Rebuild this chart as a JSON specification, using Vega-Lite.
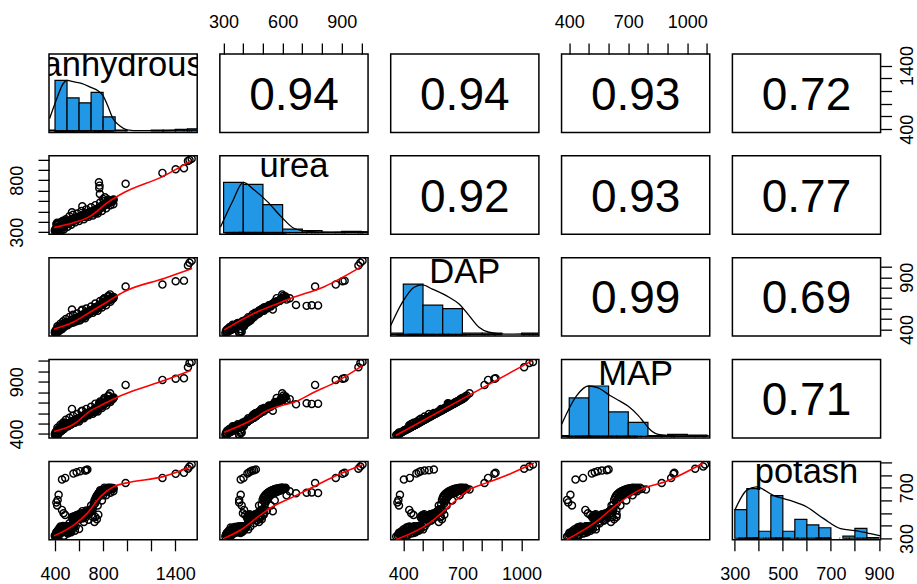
{
"$schema":"https://vega.github.io/schema/vega-lite/v6.json",
"padding":{"left":7,"top":12,"right":-1,"bottom":0},
"config":{"font":"Liberation Sans","view":{"stroke":"black","strokeWidth":1.5},
"axis":{"domain":false,"grid":false,"tickColor":"black","tickWidth":1.3,"tickSize":11,"labelFont":"Liberation Sans","labelFontSize":18,"labelColor":"black","labelFlush":false,"labelOverlap":false}},
"datasets":{
"obs":[
{"anhydrous":398,"urea":318,"DAP":372,"MAP":396,"potash":322},{"anhydrous":401,"urea":309,"DAP":364,"MAP":389,"potash":316},{"anhydrous":404,"urea":326,"DAP":384,"MAP":408,"potash":330},{"anhydrous":406,"urea":334,"DAP":392,"MAP":417,"potash":318},{"anhydrous":409,"urea":318,"DAP":378,"MAP":401,"potash":345},{"anhydrous":412,"urea":340,"DAP":398,"MAP":423,"potash":326},{"anhydrous":414,"urea":328,"DAP":388,"MAP":413,"potash":352},{"anhydrous":417,"urea":314,"DAP":376,"MAP":400,"potash":336},{"anhydrous":420,"urea":346,"DAP":404,"MAP":430,"potash":342},{"anhydrous":422,"urea":336,"DAP":412,"MAP":437,"potash":318},
{"anhydrous":425,"urea":326,"DAP":394,"MAP":418,"potash":362},{"anhydrous":428,"urea":350,"DAP":416,"MAP":442,"potash":350},{"anhydrous":430,"urea":340,"DAP":402,"MAP":428,"potash":374},{"anhydrous":433,"urea":332,"DAP":422,"MAP":448,"potash":332},{"anhydrous":436,"urea":356,"DAP":408,"MAP":434,"potash":358},{"anhydrous":438,"urea":345,"DAP":426,"MAP":452,"potash":380},{"anhydrous":441,"urea":360,"DAP":412,"MAP":438,"potash":346},{"anhydrous":443,"urea":350,"DAP":430,"MAP":456,"potash":368},{"anhydrous":446,"urea":336,"DAP":416,"MAP":442,"potash":386},{"anhydrous":448,"urea":364,"DAP":434,"MAP":460,"potash":354},
{"anhydrous":451,"urea":352,"DAP":420,"MAP":446,"potash":382},{"anhydrous":453,"urea":368,"DAP":438,"MAP":465,"potash":364},{"anhydrous":456,"urea":356,"DAP":424,"MAP":450,"potash":390},{"anhydrous":458,"urea":372,"DAP":442,"MAP":469,"potash":372},{"anhydrous":461,"urea":360,"DAP":428,"MAP":454,"potash":388},{"anhydrous":463,"urea":346,"DAP":446,"MAP":473,"potash":376},{"anhydrous":466,"urea":376,"DAP":432,"MAP":458,"potash":394},{"anhydrous":468,"urea":364,"DAP":450,"MAP":477,"potash":382},{"anhydrous":471,"urea":380,"DAP":436,"MAP":462,"potash":368},{"anhydrous":473,"urea":368,"DAP":454,"MAP":481,"potash":392},
{"anhydrous":476,"urea":356,"DAP":440,"MAP":466,"potash":384},{"anhydrous":478,"urea":384,"DAP":458,"MAP":485,"potash":396},{"anhydrous":481,"urea":372,"DAP":444,"MAP":470,"potash":380},{"anhydrous":483,"urea":388,"DAP":462,"MAP":489,"potash":390},{"anhydrous":486,"urea":376,"DAP":448,"MAP":475,"potash":374},{"anhydrous":488,"urea":392,"DAP":465,"MAP":492,"potash":395},{"anhydrous":491,"urea":380,"DAP":452,"MAP":479,"potash":388},{"anhydrous":494,"urea":396,"DAP":468,"MAP":496,"potash":393},{"anhydrous":497,"urea":384,"DAP":456,"MAP":483,"potash":381},{"anhydrous":500,"urea":400,"DAP":472,"MAP":500,"potash":396},
{"anhydrous":503,"urea":392,"DAP":462,"MAP":489,"potash":352},{"anhydrous":506,"urea":382,"DAP":448,"MAP":475,"potash":366},{"anhydrous":509,"urea":398,"DAP":468,"MAP":496,"potash":378},{"anhydrous":512,"urea":386,"DAP":452,"MAP":479,"potash":344},{"anhydrous":515,"urea":402,"DAP":472,"MAP":500,"potash":386},{"anhydrous":518,"urea":390,"DAP":456,"MAP":483,"potash":360},{"anhydrous":521,"urea":406,"DAP":476,"MAP":504,"potash":392},{"anhydrous":524,"urea":394,"DAP":460,"MAP":487,"potash":372},{"anhydrous":527,"urea":410,"DAP":480,"MAP":508,"potash":398},{"anhydrous":530,"urea":398,"DAP":464,"MAP":491,"potash":356},
{"anhydrous":533,"urea":412,"DAP":484,"MAP":512,"potash":384},{"anhydrous":536,"urea":400,"DAP":468,"MAP":495,"potash":366},{"anhydrous":539,"urea":416,"DAP":488,"MAP":516,"potash":396},{"anhydrous":542,"urea":404,"DAP":472,"MAP":500,"potash":378},{"anhydrous":545,"urea":420,"DAP":492,"MAP":521,"potash":460},{"anhydrous":548,"urea":408,"DAP":476,"MAP":504,"potash":388},{"anhydrous":551,"urea":424,"DAP":496,"MAP":525,"potash":472},{"anhydrous":554,"urea":412,"DAP":480,"MAP":508,"potash":398},{"anhydrous":557,"urea":428,"DAP":500,"MAP":529,"potash":466},{"anhydrous":560,"urea":416,"DAP":484,"MAP":512,"potash":390},
{"anhydrous":564,"urea":432,"DAP":504,"MAP":533,"potash":478},{"anhydrous":568,"urea":420,"DAP":488,"MAP":516,"potash":470},{"anhydrous":572,"urea":436,"DAP":508,"MAP":537,"potash":395},{"anhydrous":576,"urea":424,"DAP":494,"MAP":522,"potash":482},{"anhydrous":581,"urea":440,"DAP":512,"MAP":541,"potash":474},{"anhydrous":586,"urea":428,"DAP":500,"MAP":529,"potash":486},{"anhydrous":592,"urea":444,"DAP":518,"MAP":547,"potash":468},{"anhydrous":598,"urea":432,"DAP":506,"MAP":535,"potash":492},{"anhydrous":541,"urea":492,"DAP":591,"MAP":640,"potash":470},{"anhydrous":627,"urea":550,"DAP":590,"MAP":622,"potash":515},
{"anhydrous":603,"urea":436,"DAP":512,"MAP":541,"potash":452},{"anhydrous":607,"urea":450,"DAP":524,"MAP":554,"potash":476},{"anhydrous":611,"urea":440,"DAP":516,"MAP":545,"potash":462},{"anhydrous":615,"urea":456,"DAP":530,"MAP":560,"potash":484},{"anhydrous":619,"urea":444,"DAP":520,"MAP":550,"potash":470},{"anhydrous":623,"urea":460,"DAP":536,"MAP":566,"potash":492},{"anhydrous":628,"urea":448,"DAP":526,"MAP":556,"potash":458},{"anhydrous":632,"urea":466,"DAP":542,"MAP":572,"potash":488},{"anhydrous":636,"urea":454,"DAP":532,"MAP":562,"potash":474},{"anhydrous":640,"urea":470,"DAP":548,"MAP":579,"potash":496},
{"anhydrous":645,"urea":458,"DAP":538,"MAP":568,"potash":480},{"anhydrous":649,"urea":474,"DAP":554,"MAP":585,"potash":498},{"anhydrous":654,"urea":462,"DAP":544,"MAP":574,"potash":486},{"anhydrous":658,"urea":478,"DAP":560,"MAP":591,"potash":470},{"anhydrous":663,"urea":466,"DAP":550,"MAP":581,"potash":494},{"anhydrous":667,"urea":484,"DAP":566,"MAP":597,"potash":506},{"anhydrous":672,"urea":470,"DAP":556,"MAP":587,"potash":488},{"anhydrous":677,"urea":488,"DAP":572,"MAP":603,"potash":512},{"anhydrous":682,"urea":474,"DAP":562,"MAP":593,"potash":498},{"anhydrous":688,"urea":494,"DAP":578,"MAP":610,"potash":524},
{"anhydrous":694,"urea":480,"DAP":568,"MAP":599,"potash":506},{"anhydrous":700,"urea":498,"DAP":584,"MAP":616,"potash":530},{"anhydrous":706,"urea":486,"DAP":576,"MAP":608,"potash":518},{"anhydrous":713,"urea":504,"DAP":592,"MAP":624,"potash":528},
{"anhydrous":722,"urea":494,"DAP":592,"MAP":624,"potash":566},{"anhydrous":726,"urea":508,"DAP":604,"MAP":637,"potash":590},{"anhydrous":730,"urea":498,"DAP":596,"MAP":628,"potash":604},{"anhydrous":734,"urea":512,"DAP":608,"MAP":641,"potash":578},{"anhydrous":738,"urea":502,"DAP":600,"MAP":633,"potash":620},{"anhydrous":742,"urea":518,"DAP":612,"MAP":645,"potash":598},{"anhydrous":746,"urea":508,"DAP":604,"MAP":637,"potash":634},{"anhydrous":750,"urea":524,"DAP":618,"MAP":651,"potash":612},{"anhydrous":754,"urea":514,"DAP":610,"MAP":643,"potash":646},{"anhydrous":758,"urea":530,"DAP":624,"MAP":657,"potash":626},
{"anhydrous":762,"urea":520,"DAP":616,"MAP":649,"potash":654},{"anhydrous":766,"urea":536,"DAP":630,"MAP":664,"potash":636},{"anhydrous":770,"urea":526,"DAP":622,"MAP":655,"potash":662},{"anhydrous":774,"urea":542,"DAP":636,"MAP":670,"potash":644},{"anhydrous":778,"urea":532,"DAP":628,"MAP":661,"potash":668},{"anhydrous":782,"urea":548,"DAP":642,"MAP":676,"potash":650},{"anhydrous":786,"urea":538,"DAP":634,"MAP":668,"potash":674},{"anhydrous":790,"urea":554,"DAP":648,"MAP":682,"potash":656},{"anhydrous":794,"urea":544,"DAP":640,"MAP":674,"potash":678},{"anhydrous":798,"urea":560,"DAP":654,"MAP":688,"potash":660},
{"anhydrous":802,"urea":550,"DAP":646,"MAP":680,"potash":682},{"anhydrous":806,"urea":566,"DAP":660,"MAP":695,"potash":664},{"anhydrous":810,"urea":556,"DAP":652,"MAP":686,"potash":686},{"anhydrous":814,"urea":572,"DAP":666,"MAP":701,"potash":668},{"anhydrous":818,"urea":562,"DAP":658,"MAP":693,"potash":690},{"anhydrous":822,"urea":578,"DAP":672,"MAP":707,"potash":672},{"anhydrous":826,"urea":568,"DAP":664,"MAP":699,"potash":692},{"anhydrous":830,"urea":584,"DAP":678,"MAP":713,"potash":676},{"anhydrous":834,"urea":574,"DAP":670,"MAP":705,"potash":694},{"anhydrous":838,"urea":590,"DAP":684,"MAP":720,"potash":680},
{"anhydrous":842,"urea":580,"DAP":676,"MAP":711,"potash":696},{"anhydrous":846,"urea":596,"DAP":690,"MAP":726,"potash":684},{"anhydrous":850,"urea":586,"DAP":682,"MAP":718,"potash":698},{"anhydrous":855,"urea":600,"DAP":696,"MAP":732,"potash":688},{"anhydrous":860,"urea":592,"DAP":688,"MAP":724,"potash":699},{"anhydrous":865,"urea":606,"DAP":700,"MAP":736,"potash":690},{"anhydrous":870,"urea":598,"DAP":694,"MAP":730,"potash":697},{"anhydrous":876,"urea":610,"DAP":706,"MAP":742,"potash":692},{"anhydrous":882,"urea":602,"DAP":700,"MAP":736,"potash":698},{"anhydrous":888,"urea":614,"DAP":712,"MAP":749,"potash":694},
{"anhydrous":735,"urea":486,"DAP":586,"MAP":618,"potash":470},{"anhydrous":748,"urea":494,"DAP":596,"MAP":628,"potash":452},{"anhydrous":760,"urea":504,"DAP":608,"MAP":641,"potash":488},{"anhydrous":728,"urea":480,"DAP":580,"MAP":612,"potash":430},{"anhydrous":800,"urea":620,"DAP":686,"MAP":722,"potash":640},{"anhydrous":815,"urea":636,"DAP":698,"MAP":734,"potash":672},{"anhydrous":845,"urea":604,"DAP":722,"MAP":768,"potash":690},{"anhydrous":858,"urea":598,"DAP":736,"MAP":790,"potash":685},
{"anhydrous":420,"urea":380,"DAP":430,"MAP":460,"potash":360},{"anhydrous":435,"urea":312,"DAP":388,"MAP":412,"potash":330},{"anhydrous":445,"urea":395,"DAP":455,"MAP":487,"potash":395},{"anhydrous":455,"urea":318,"DAP":402,"MAP":430,"potash":345},{"anhydrous":468,"urea":410,"DAP":478,"MAP":510,"potash":398},{"anhydrous":475,"urea":330,"DAP":420,"MAP":448,"potash":322},{"anhydrous":490,"urea":425,"DAP":500,"MAP":535,"potash":372},{"anhydrous":505,"urea":352,"DAP":440,"MAP":470,"potash":340},{"anhydrous":520,"urea":455,"DAP":520,"MAP":555,"potash":420},{"anhydrous":535,"urea":372,"DAP":462,"MAP":492,"potash":350},
{"anhydrous":550,"urea":468,"DAP":540,"MAP":575,"potash":440},{"anhydrous":565,"urea":395,"DAP":478,"MAP":508,"potash":362},{"anhydrous":585,"urea":480,"DAP":552,"MAP":590,"potash":455},{"anhydrous":600,"urea":408,"DAP":488,"MAP":520,"potash":375},{"anhydrous":620,"urea":505,"DAP":580,"MAP":618,"potash":500},{"anhydrous":640,"urea":425,"DAP":518,"MAP":550,"potash":430},{"anhydrous":660,"urea":520,"DAP":600,"MAP":640,"potash":520},{"anhydrous":680,"urea":448,"DAP":545,"MAP":578,"potash":448},{"anhydrous":700,"urea":540,"DAP":620,"MAP":660,"potash":560},{"anhydrous":715,"urea":460,"DAP":560,"MAP":594,"potash":470},
{"anhydrous":735,"urea":560,"DAP":648,"MAP":690,"potash":600},{"anhydrous":755,"urea":480,"DAP":580,"MAP":615,"potash":560},{"anhydrous":775,"urea":585,"DAP":672,"MAP":712,"potash":680},{"anhydrous":790,"urea":505,"DAP":610,"MAP":648,"potash":600},{"anhydrous":810,"urea":600,"DAP":700,"MAP":745,"potash":700},{"anhydrous":825,"urea":530,"DAP":632,"MAP":672,"potash":640},{"anhydrous":840,"urea":615,"DAP":715,"MAP":760,"potash":700},{"anhydrous":860,"urea":560,"DAP":665,"MAP":706,"potash":660},{"anhydrous":875,"urea":590,"DAP":690,"MAP":735,"potash":688},{"anhydrous":885,"urea":570,"DAP":700,"MAP":745,"potash":672},
{"anhydrous":765,"urea":780,"DAP":630,"MAP":690,"potash":658},{"anhydrous":770,"urea":748,"DAP":632,"MAP":688,"potash":663},{"anhydrous":768,"urea":722,"DAP":626,"MAP":694,"potash":660},{"anhydrous":773,"urea":668,"DAP":634,"MAP":684,"potash":656},
{"anhydrous":458,"urea":387,"DAP":403,"MAP":432,"potash":764},{"anhydrous":485,"urea":401,"DAP":433,"MAP":470,"potash":777},{"anhydrous":553,"urea":421,"DAP":466,"MAP":515,"potash":811},{"anhydrous":580,"urea":430,"DAP":478,"MAP":530,"potash":822},{"anhydrous":609,"urea":438,"DAP":488,"MAP":545,"potash":830},{"anhydrous":650,"urea":446,"DAP":508,"MAP":566,"potash":835},{"anhydrous":669,"urea":464,"DAP":555,"MAP":600,"potash":843},{"anhydrous":660,"urea":455,"DAP":530,"MAP":591,"potash":838},
{"anhydrous":430,"urea":387,"DAP":383,"MAP":406,"potash":644},{"anhydrous":422,"urea":379,"DAP":375,"MAP":389,"potash":604},{"anhydrous":411,"urea":379,"DAP":370,"MAP":395,"potash":584},{"anhydrous":418,"urea":392,"DAP":378,"MAP":414,"potash":560},{"anhydrous":458,"urea":404,"DAP":430,"MAP":482,"potash":525},{"anhydrous":471,"urea":398,"DAP":440,"MAP":495,"potash":499},{"anhydrous":485,"urea":410,"DAP":452,"MAP":507,"potash":485},
{"anhydrous":987,"urea":765,"DAP":812,"MAP":870,"potash":737},{"anhydrous":1293,"urea":870,"DAP":830,"MAP":918,"potash":777},{"anhydrous":1403,"urea":905,"DAP":862,"MAP":930,"potash":809},{"anhydrous":1472,"urea":915,"DAP":868,"MAP":934,"potash":817},{"anhydrous":1505,"urea":985,"DAP":1013,"MAP":1040,"potash":849},{"anhydrous":1518,"urea":995,"DAP":1040,"MAP":1081,"potash":866},{"anhydrous":1536,"urea":1006,"DAP":1058,"MAP":1090,"potash":883}
],
"hist":[
{"var":"anhydrous","bin0":300,"bin1":400,"count":1},{"var":"anhydrous","bin0":400,"bin1":500,"count":72},{"var":"anhydrous","bin0":500,"bin1":600,"count":47},{"var":"anhydrous","bin0":600,"bin1":700,"count":40},{"var":"anhydrous","bin0":700,"bin1":800,"count":55},{"var":"anhydrous","bin0":800,"bin1":900,"count":20},{"var":"anhydrous","bin0":900,"bin1":1000,"count":1},{"var":"anhydrous","bin0":1200,"bin1":1300,"count":1},{"var":"anhydrous","bin0":1300,"bin1":1400,"count":1},{"var":"anhydrous","bin0":1400,"bin1":1500,"count":2},{"var":"anhydrous","bin0":1500,"bin1":1600,"count":3},
{"var":"urea","bin0":300,"bin1":400,"count":72},{"var":"urea","bin0":400,"bin1":500,"count":69},{"var":"urea","bin0":500,"bin1":600,"count":40},{"var":"urea","bin0":600,"bin1":700,"count":5},{"var":"urea","bin0":700,"bin1":800,"count":3},{"var":"urea","bin0":800,"bin1":900,"count":1},{"var":"urea","bin0":900,"bin1":1000,"count":2},{"var":"urea","bin0":1000,"bin1":1100,"count":1},
{"var":"DAP","bin0":300,"bin1":400,"count":2},{"var":"DAP","bin0":400,"bin1":500,"count":72},{"var":"DAP","bin0":500,"bin1":600,"count":42},{"var":"DAP","bin0":600,"bin1":700,"count":37},{"var":"DAP","bin0":700,"bin1":800,"count":2},{"var":"DAP","bin0":800,"bin1":900,"count":2},{"var":"DAP","bin0":1000,"bin1":1100,"count":2},
{"var":"MAP","bin0":300,"bin1":400,"count":1},{"var":"MAP","bin0":400,"bin1":500,"count":55},{"var":"MAP","bin0":500,"bin1":600,"count":72},{"var":"MAP","bin0":600,"bin1":700,"count":35},{"var":"MAP","bin0":700,"bin1":800,"count":20},{"var":"MAP","bin0":800,"bin1":900,"count":1},{"var":"MAP","bin0":900,"bin1":1000,"count":3},{"var":"MAP","bin0":1000,"bin1":1100,"count":2},
{"var":"potash","bin0":300,"bin1":350,"count":41},{"var":"potash","bin0":350,"bin1":400,"count":71},{"var":"potash","bin0":400,"bin1":450,"count":10},{"var":"potash","bin0":450,"bin1":500,"count":61},{"var":"potash","bin0":500,"bin1":550,"count":10},{"var":"potash","bin0":550,"bin1":600,"count":27},{"var":"potash","bin0":600,"bin1":650,"count":19},{"var":"potash","bin0":650,"bin1":700,"count":15},{"var":"potash","bin0":750,"bin1":800,"count":3},{"var":"potash","bin0":800,"bin1":850,"count":14},{"var":"potash","bin0":850,"bin1":900,"count":1}
],
"dens":[
{"var":"anhydrous","value":355,"density":17.5},{"var":"anhydrous","value":406,"density":42},{"var":"anhydrous","value":470,"density":68},{"var":"anhydrous","value":500,"density":72},{"var":"anhydrous","value":560,"density":70},{"var":"anhydrous","value":620,"density":68},{"var":"anhydrous","value":700,"density":62},{"var":"anhydrous","value":760,"density":57},{"var":"anhydrous","value":800,"density":50},{"var":"anhydrous","value":840,"density":35},{"var":"anhydrous","value":880,"density":18},{"var":"anhydrous","value":940,"density":7},{"var":"anhydrous","value":1000,"density":1.5},{"var":"anhydrous","value":1100,"density":0.3},{"var":"anhydrous","value":1300,"density":0.4},{"var":"anhydrous","value":1420,"density":1},{"var":"anhydrous","value":1500,"density":1.4},{"var":"anhydrous","value":1582,"density":1.2},
{"var":"urea","value":284,"density":8},{"var":"urea","value":346,"density":45},{"var":"urea","value":400,"density":72},{"var":"urea","value":456,"density":61},{"var":"urea","value":524,"density":44},{"var":"urea","value":592,"density":23},{"var":"urea","value":660,"density":6},{"var":"urea","value":728,"density":2},{"var":"urea","value":850,"density":0.6},{"var":"urea","value":950,"density":1},{"var":"urea","value":1000,"density":1.4},{"var":"urea","value":1034,"density":1},
{"var":"DAP","value":336,"density":12.9},{"var":"DAP","value":395,"density":46},{"var":"DAP","value":455,"density":67.6},{"var":"DAP","value":497,"density":70.9},{"var":"DAP","value":547,"density":65},{"var":"DAP","value":632,"density":53.3},{"var":"DAP","value":683,"density":43.7},{"var":"DAP","value":734,"density":27},{"var":"DAP","value":784,"density":10.4},{"var":"DAP","value":835,"density":3.3},{"var":"DAP","value":919,"density":0.5},{"var":"DAP","value":1004,"density":0.8},{"var":"DAP","value":1088,"density":0.6},
{"var":"MAP","value":361,"density":17},{"var":"MAP","value":437,"density":58},{"var":"MAP","value":497,"density":72},{"var":"MAP","value":547,"density":69.4},{"var":"MAP","value":607,"density":58.5},{"var":"MAP","value":660,"density":50},{"var":"MAP","value":700,"density":43},{"var":"MAP","value":750,"density":30},{"var":"MAP","value":780,"density":20},{"var":"MAP","value":810,"density":10},{"var":"MAP","value":860,"density":2.5},{"var":"MAP","value":944,"density":0.8},{"var":"MAP","value":1030,"density":0.6},{"var":"MAP","value":1114,"density":0.6},
{"var":"potash","value":300,"density":40},{"var":"potash","value":349,"density":68.4},{"var":"potash","value":390,"density":73.3},{"var":"potash","value":460,"density":61.3},{"var":"potash","value":530,"density":54},{"var":"potash","value":600,"density":44.7},{"var":"potash","value":670,"density":28},{"var":"potash","value":740,"density":13.7},{"var":"potash","value":809,"density":10.4},{"var":"potash","value":865,"density":6.6},{"var":"potash","value":907,"density":3.5}
],
"smooth":[
{"panel":"urea|anhydrous","x":392,"y":345},{"panel":"urea|anhydrous","x":558,"y":393},{"panel":"urea|anhydrous","x":697,"y":458},{"panel":"urea|anhydrous","x":836,"y":585},{"panel":"urea|anhydrous","x":974,"y":682},{"panel":"urea|anhydrous","x":1306,"y":842},{"panel":"urea|anhydrous","x":1528,"y":986},
{"panel":"DAP|anhydrous","x":392,"y":404},{"panel":"DAP|anhydrous","x":558,"y":474},{"panel":"DAP|anhydrous","x":697,"y":570},{"panel":"DAP|anhydrous","x":836,"y":666},{"panel":"DAP|anhydrous","x":974,"y":762},{"panel":"DAP|anhydrous","x":1306,"y":889},{"panel":"DAP|anhydrous","x":1540,"y":985},
{"panel":"MAP|anhydrous","x":392,"y":422},{"panel":"MAP|anhydrous","x":558,"y":495},{"panel":"MAP|anhydrous","x":697,"y":624},{"panel":"MAP|anhydrous","x":780,"y":672},{"panel":"MAP|anhydrous","x":919,"y":752},{"panel":"MAP|anhydrous","x":1057,"y":816},{"panel":"MAP|anhydrous","x":1306,"y":912},{"panel":"MAP|anhydrous","x":1528,"y":1008},
{"panel":"potash|anhydrous","x":392,"y":321},{"panel":"potash|anhydrous","x":558,"y":408},{"panel":"potash|anhydrous","x":669,"y":500},{"panel":"potash|anhydrous","x":780,"y":632},{"panel":"potash|anhydrous","x":890,"y":710},{"panel":"potash|anhydrous","x":987,"y":736},{"panel":"potash|anhydrous","x":1306,"y":789},{"panel":"potash|anhydrous","x":1528,"y":862},
{"panel":"DAP|urea","x":303,"y":395},{"panel":"DAP|urea","x":473,"y":570},{"panel":"DAP|urea","x":557,"y":634},{"panel":"DAP|urea","x":642,"y":698},{"panel":"DAP|urea","x":811,"y":810},{"panel":"DAP|urea","x":1000,"y":1002},
{"panel":"MAP|urea","x":303,"y":416},{"panel":"MAP|urea","x":439,"y":528},{"panel":"MAP|urea","x":523,"y":624},{"panel":"MAP|urea","x":600,"y":675},{"panel":"MAP|urea","x":658,"y":704},{"panel":"MAP|urea","x":760,"y":800},{"panel":"MAP|urea","x":862,"y":890},{"panel":"MAP|urea","x":1006,"y":1056},
{"panel":"potash|urea","x":303,"y":303},{"panel":"potash|urea","x":388,"y":369},{"panel":"potash|urea","x":455,"y":447},{"panel":"potash|urea","x":523,"y":526},{"panel":"potash|urea","x":659,"y":632},{"panel":"potash|urea","x":760,"y":709},{"panel":"potash|urea","x":862,"y":788},{"panel":"potash|urea","x":1006,"y":880},
{"panel":"MAP|DAP","x":361,"y":384},{"panel":"MAP|DAP","x":700,"y":736},{"panel":"MAP|DAP","x":1055,"y":1104},
{"panel":"potash|DAP","x":361,"y":290},{"panel":"potash|DAP","x":532,"y":421},{"panel":"potash|DAP","x":632,"y":553},{"panel":"potash|DAP","x":734,"y":684},{"panel":"potash|DAP","x":818,"y":736},{"panel":"potash|DAP","x":919,"y":794},{"panel":"potash|DAP","x":1063,"y":894},
{"panel":"potash|MAP","x":386,"y":290},{"panel":"potash|MAP","x":539,"y":435},{"panel":"potash|MAP","x":640,"y":565},{"panel":"potash|MAP","x":759,"y":683},{"panel":"potash|MAP","x":894,"y":750},{"panel":"potash|MAP","x":1081,"y":894}
]
},
"columns":5,
"spacing":{"row":22.85,"column":21.85},
"bounds":"flush",
"concat":[
 {"width":148.2,"height":78.4,"layer":[
  {"data":{"name":"hist"},"transform":[{"filter":"datum.var == 'anhydrous'"}],"mark":{"type":"bar","fill":"#2297E6","stroke":"black","strokeWidth":1.2,"clip":true},"encoding":{"x":{"field":"bin0","type":"quantitative","scale":{"domain":[350,1582],"nice":false,"zero":false},"axis":null},"x2":{"field":"bin1"},"y":{"field":"count","type":"quantitative","scale":{"domain":[-2.2,109.8],"nice":false,"zero":false},"axis":null},"y2":{"datum":0}}},
  {"data":{"name":"dens"},"transform":[{"filter":"datum.var == 'anhydrous'"}],"mark":{"type":"line","color":"black","strokeWidth":1.3,"clip":true,"interpolate":"monotone"},"encoding":{"x":{"field":"value","type":"quantitative","scale":{"domain":[350,1582],"nice":false,"zero":false},"axis":null},"y":{"field":"density","type":"quantitative","scale":{"domain":[-2.2,109.8],"nice":false,"zero":false},"axis":null}}},
  {"data":{"name":"obs"},"mark":{"type":"rule","color":"black","strokeWidth":0.6,"clip":true},"encoding":{"x":{"field":"anhydrous","type":"quantitative","scale":{"domain":[350,1582],"nice":false,"zero":false},"axis":null},"y":{"datum":-2.2,"type":"quantitative","scale":{"domain":[-2.2,109.8],"nice":false,"zero":false},"axis":null},"y2":{"datum":1.2}}},
  {"data":{"values":[{"label":"anhydrous"}]},"mark":{"type":"text","fontSize":34.5,"font":"Liberation Sans","color":"black","baseline":"alphabetic","clip":true},"encoding":{"text":{"field":"label","type":"nominal"},"y":{"datum":79,"type":"quantitative","scale":{"domain":[-2.2,109.8],"nice":false,"zero":false},"axis":null}}}
 ]},
 {"width":148.2,"height":78.4,"layer":[
  {"data":{"values":[{"r":0.94}]},"mark":{"type":"text","fontSize":46,"font":"Liberation Sans","color":"black","baseline":"middle","dy":2.5},"encoding":{"text":{"field":"r","type":"quantitative","format":".2f"}}},
  {"data":{"values":[{"k":1}]},"mark":{"type":"rule","opacity":0},"encoding":{"x":{"datum":600,"type":"quantitative","scale":{"domain":[281,1034],"nice":false,"zero":false},"axis":{"orient":"top","title":null,"format":"d","values":[300,400,500,600,700,800,900,1000],"labelExpr":"indexof([300,600,900], datum.value) >= 0 ? datum.label : ''","labelPadding":12}}}}
 ]},
 {"width":148.2,"height":78.4,"data":{"values":[{"r":0.94}]},"mark":{"type":"text","fontSize":46,"font":"Liberation Sans","color":"black","baseline":"middle","dy":2.5},"encoding":{"text":{"field":"r","type":"quantitative","format":".2f"},"x":{"datum":0.5,"type":"quantitative","scale":{"domain":[0,1]},"axis":null},"y":{"datum":0.5,"type":"quantitative","scale":{"domain":[0,1]},"axis":null}}},
 {"width":148.2,"height":78.4,"layer":[
  {"data":{"values":[{"r":0.93}]},"mark":{"type":"text","fontSize":46,"font":"Liberation Sans","color":"black","baseline":"middle","dy":2.5},"encoding":{"text":{"field":"r","type":"quantitative","format":".2f"}}},
  {"data":{"values":[{"k":1}]},"mark":{"type":"rule","opacity":0},"encoding":{"x":{"datum":700,"type":"quantitative","scale":{"domain":[361,1114],"nice":false,"zero":false},"axis":{"orient":"top","title":null,"format":"d","values":[400,500,600,700,800,900,1000,1100],"labelExpr":"indexof([400,700,1000], datum.value) >= 0 ? datum.label : ''","labelPadding":12}}}}
 ]},
 {"width":148.2,"height":78.4,"layer":[
  {"data":{"values":[{"r":0.72}]},"mark":{"type":"text","fontSize":46,"font":"Liberation Sans","color":"black","baseline":"middle","dy":2.5},"encoding":{"text":{"field":"r","type":"quantitative","format":".2f"}}},
  {"data":{"values":[{"k":1}]},"mark":{"type":"rule","opacity":0},"encoding":{"y":{"datum":900,"type":"quantitative","scale":{"domain":[350,1582],"nice":false,"zero":false},"axis":{"orient":"right","title":null,"format":"d","values":[400,600,800,1000,1200,1400],"labelExpr":"indexof([400,1400], datum.value) >= 0 ? datum.label : ''","labelAngle":-90,"labelAlign":"center","labelBaseline":"top","labelPadding":6.5}}}}
 ]},
 {"width":148.2,"height":78.4,"layer":[
  {"data":{"name":"obs"},"mark":{"type":"point","shape":"circle","filled":false,"color":"black","size":50,"strokeWidth":1.4,"opacity":1,"clip":true},"encoding":{"x":{"field":"anhydrous","type":"quantitative","scale":{"domain":[350,1582],"nice":false,"zero":false},"axis":null},"y":{"field":"urea","type":"quantitative","scale":{"domain":[281,1034],"nice":false,"zero":false},"axis":{"orient":"left","title":null,"format":"d","values":[300,400,500,600,700,800,900,1000],"labelExpr":"indexof([300,800], datum.value) >= 0 ? datum.label : ''","labelAngle":-90,"labelAlign":"center","labelBaseline":"bottom","labelPadding":12}}}},
  {"data":{"name":"smooth"},"transform":[{"filter":"datum.panel == 'urea|anhydrous'"}],"mark":{"type":"line","color":"red","strokeWidth":1.6,"clip":true,"interpolate":"monotone"},"encoding":{"x":{"field":"x","type":"quantitative","scale":{"domain":[350,1582],"nice":false,"zero":false},"axis":null},"y":{"field":"y","type":"quantitative","scale":{"domain":[281,1034],"nice":false,"zero":false},"axis":{"orient":"left","title":null,"format":"d","values":[300,400,500,600,700,800,900,1000],"labelExpr":"indexof([300,800], datum.value) >= 0 ? datum.label : ''","labelAngle":-90,"labelAlign":"center","labelBaseline":"bottom","labelPadding":12}}}}
 ]},
 {"width":148.2,"height":78.4,"layer":[
  {"data":{"name":"hist"},"transform":[{"filter":"datum.var == 'urea'"}],"mark":{"type":"bar","fill":"#2297E6","stroke":"black","strokeWidth":1.2,"clip":true},"encoding":{"x":{"field":"bin0","type":"quantitative","scale":{"domain":[281,1034],"nice":false,"zero":false},"axis":null},"x2":{"field":"bin1"},"y":{"field":"count","type":"quantitative","scale":{"domain":[-2.2,109.8],"nice":false,"zero":false},"axis":null},"y2":{"datum":0}}},
  {"data":{"name":"dens"},"transform":[{"filter":"datum.var == 'urea'"}],"mark":{"type":"line","color":"black","strokeWidth":1.3,"clip":true,"interpolate":"monotone"},"encoding":{"x":{"field":"value","type":"quantitative","scale":{"domain":[281,1034],"nice":false,"zero":false},"axis":null},"y":{"field":"density","type":"quantitative","scale":{"domain":[-2.2,109.8],"nice":false,"zero":false},"axis":null}}},
  {"data":{"name":"obs"},"mark":{"type":"rule","color":"black","strokeWidth":0.6,"clip":true},"encoding":{"x":{"field":"urea","type":"quantitative","scale":{"domain":[281,1034],"nice":false,"zero":false},"axis":null},"y":{"datum":-2.2,"type":"quantitative","scale":{"domain":[-2.2,109.8],"nice":false,"zero":false},"axis":null},"y2":{"datum":1.2}}},
  {"data":{"values":[{"label":"urea"}]},"mark":{"type":"text","fontSize":34.5,"font":"Liberation Sans","color":"black","baseline":"alphabetic","clip":true},"encoding":{"text":{"field":"label","type":"nominal"},"y":{"datum":79,"type":"quantitative","scale":{"domain":[-2.2,109.8],"nice":false,"zero":false},"axis":null}}}
 ]},
 {"width":148.2,"height":78.4,"data":{"values":[{"r":0.92}]},"mark":{"type":"text","fontSize":46,"font":"Liberation Sans","color":"black","baseline":"middle","dy":2.5},"encoding":{"text":{"field":"r","type":"quantitative","format":".2f"},"x":{"datum":0.5,"type":"quantitative","scale":{"domain":[0,1]},"axis":null},"y":{"datum":0.5,"type":"quantitative","scale":{"domain":[0,1]},"axis":null}}},
 {"width":148.2,"height":78.4,"data":{"values":[{"r":0.93}]},"mark":{"type":"text","fontSize":46,"font":"Liberation Sans","color":"black","baseline":"middle","dy":2.5},"encoding":{"text":{"field":"r","type":"quantitative","format":".2f"},"x":{"datum":0.5,"type":"quantitative","scale":{"domain":[0,1]},"axis":null},"y":{"datum":0.5,"type":"quantitative","scale":{"domain":[0,1]},"axis":null}}},
 {"width":148.2,"height":78.4,"data":{"values":[{"r":0.77}]},"mark":{"type":"text","fontSize":46,"font":"Liberation Sans","color":"black","baseline":"middle","dy":2.5},"encoding":{"text":{"field":"r","type":"quantitative","format":".2f"},"x":{"datum":0.5,"type":"quantitative","scale":{"domain":[0,1]},"axis":null},"y":{"datum":0.5,"type":"quantitative","scale":{"domain":[0,1]},"axis":null}}},
 {"width":148.2,"height":78.4,"layer":[
  {"data":{"name":"obs"},"mark":{"type":"point","shape":"circle","filled":false,"color":"black","size":50,"strokeWidth":1.4,"opacity":1,"clip":true},"encoding":{"x":{"field":"anhydrous","type":"quantitative","scale":{"domain":[350,1582],"nice":false,"zero":false},"axis":null},"y":{"field":"DAP","type":"quantitative","scale":{"domain":[336,1088],"nice":false,"zero":false},"axis":null}}},
  {"data":{"name":"smooth"},"transform":[{"filter":"datum.panel == 'DAP|anhydrous'"}],"mark":{"type":"line","color":"red","strokeWidth":1.6,"clip":true,"interpolate":"monotone"},"encoding":{"x":{"field":"x","type":"quantitative","scale":{"domain":[350,1582],"nice":false,"zero":false},"axis":null},"y":{"field":"y","type":"quantitative","scale":{"domain":[336,1088],"nice":false,"zero":false},"axis":null}}}
 ]},
 {"width":148.2,"height":78.4,"layer":[
  {"data":{"name":"obs"},"mark":{"type":"point","shape":"circle","filled":false,"color":"black","size":50,"strokeWidth":1.4,"opacity":1,"clip":true},"encoding":{"x":{"field":"urea","type":"quantitative","scale":{"domain":[281,1034],"nice":false,"zero":false},"axis":null},"y":{"field":"DAP","type":"quantitative","scale":{"domain":[336,1088],"nice":false,"zero":false},"axis":null}}},
  {"data":{"name":"smooth"},"transform":[{"filter":"datum.panel == 'DAP|urea'"}],"mark":{"type":"line","color":"red","strokeWidth":1.6,"clip":true,"interpolate":"monotone"},"encoding":{"x":{"field":"x","type":"quantitative","scale":{"domain":[281,1034],"nice":false,"zero":false},"axis":null},"y":{"field":"y","type":"quantitative","scale":{"domain":[336,1088],"nice":false,"zero":false},"axis":null}}}
 ]},
 {"width":148.2,"height":78.4,"layer":[
  {"data":{"name":"hist"},"transform":[{"filter":"datum.var == 'DAP'"}],"mark":{"type":"bar","fill":"#2297E6","stroke":"black","strokeWidth":1.2,"clip":true},"encoding":{"x":{"field":"bin0","type":"quantitative","scale":{"domain":[336,1088],"nice":false,"zero":false},"axis":null},"x2":{"field":"bin1"},"y":{"field":"count","type":"quantitative","scale":{"domain":[-2.2,109.8],"nice":false,"zero":false},"axis":null},"y2":{"datum":0}}},
  {"data":{"name":"dens"},"transform":[{"filter":"datum.var == 'DAP'"}],"mark":{"type":"line","color":"black","strokeWidth":1.3,"clip":true,"interpolate":"monotone"},"encoding":{"x":{"field":"value","type":"quantitative","scale":{"domain":[336,1088],"nice":false,"zero":false},"axis":null},"y":{"field":"density","type":"quantitative","scale":{"domain":[-2.2,109.8],"nice":false,"zero":false},"axis":null}}},
  {"data":{"name":"obs"},"mark":{"type":"rule","color":"black","strokeWidth":0.6,"clip":true},"encoding":{"x":{"field":"DAP","type":"quantitative","scale":{"domain":[336,1088],"nice":false,"zero":false},"axis":null},"y":{"datum":-2.2,"type":"quantitative","scale":{"domain":[-2.2,109.8],"nice":false,"zero":false},"axis":null},"y2":{"datum":1.2}}},
  {"data":{"values":[{"label":"DAP"}]},"mark":{"type":"text","fontSize":34.5,"font":"Liberation Sans","color":"black","baseline":"alphabetic","clip":true},"encoding":{"text":{"field":"label","type":"nominal"},"y":{"datum":73,"type":"quantitative","scale":{"domain":[-2.2,109.8],"nice":false,"zero":false},"axis":null}}}
 ]},
 {"width":148.2,"height":78.4,"data":{"values":[{"r":0.99}]},"mark":{"type":"text","fontSize":46,"font":"Liberation Sans","color":"black","baseline":"middle","dy":2.5},"encoding":{"text":{"field":"r","type":"quantitative","format":".2f"},"x":{"datum":0.5,"type":"quantitative","scale":{"domain":[0,1]},"axis":null},"y":{"datum":0.5,"type":"quantitative","scale":{"domain":[0,1]},"axis":null}}},
 {"width":148.2,"height":78.4,"layer":[
  {"data":{"values":[{"r":0.69}]},"mark":{"type":"text","fontSize":46,"font":"Liberation Sans","color":"black","baseline":"middle","dy":2.5},"encoding":{"text":{"field":"r","type":"quantitative","format":".2f"}}},
  {"data":{"values":[{"k":1}]},"mark":{"type":"rule","opacity":0},"encoding":{"y":{"datum":700,"type":"quantitative","scale":{"domain":[336,1088],"nice":false,"zero":false},"axis":{"orient":"right","title":null,"format":"d","values":[400,500,600,700,800,900,1000],"labelExpr":"indexof([400,900], datum.value) >= 0 ? datum.label : ''","labelAngle":-90,"labelAlign":"center","labelBaseline":"top","labelPadding":6.5}}}}
 ]},
 {"width":148.2,"height":78.4,"layer":[
  {"data":{"name":"obs"},"mark":{"type":"point","shape":"circle","filled":false,"color":"black","size":50,"strokeWidth":1.4,"opacity":1,"clip":true},"encoding":{"x":{"field":"anhydrous","type":"quantitative","scale":{"domain":[350,1582],"nice":false,"zero":false},"axis":null},"y":{"field":"MAP","type":"quantitative","scale":{"domain":[361,1114],"nice":false,"zero":false},"axis":{"orient":"left","title":null,"format":"d","values":[400,500,600,700,800,900,1000,1100],"labelExpr":"indexof([400,900], datum.value) >= 0 ? datum.label : ''","labelAngle":-90,"labelAlign":"center","labelBaseline":"bottom","labelPadding":12}}}},
  {"data":{"name":"smooth"},"transform":[{"filter":"datum.panel == 'MAP|anhydrous'"}],"mark":{"type":"line","color":"red","strokeWidth":1.6,"clip":true,"interpolate":"monotone"},"encoding":{"x":{"field":"x","type":"quantitative","scale":{"domain":[350,1582],"nice":false,"zero":false},"axis":null},"y":{"field":"y","type":"quantitative","scale":{"domain":[361,1114],"nice":false,"zero":false},"axis":{"orient":"left","title":null,"format":"d","values":[400,500,600,700,800,900,1000,1100],"labelExpr":"indexof([400,900], datum.value) >= 0 ? datum.label : ''","labelAngle":-90,"labelAlign":"center","labelBaseline":"bottom","labelPadding":12}}}}
 ]},
 {"width":148.2,"height":78.4,"layer":[
  {"data":{"name":"obs"},"mark":{"type":"point","shape":"circle","filled":false,"color":"black","size":50,"strokeWidth":1.4,"opacity":1,"clip":true},"encoding":{"x":{"field":"urea","type":"quantitative","scale":{"domain":[281,1034],"nice":false,"zero":false},"axis":null},"y":{"field":"MAP","type":"quantitative","scale":{"domain":[361,1114],"nice":false,"zero":false},"axis":null}}},
  {"data":{"name":"smooth"},"transform":[{"filter":"datum.panel == 'MAP|urea'"}],"mark":{"type":"line","color":"red","strokeWidth":1.6,"clip":true,"interpolate":"monotone"},"encoding":{"x":{"field":"x","type":"quantitative","scale":{"domain":[281,1034],"nice":false,"zero":false},"axis":null},"y":{"field":"y","type":"quantitative","scale":{"domain":[361,1114],"nice":false,"zero":false},"axis":null}}}
 ]},
 {"width":148.2,"height":78.4,"layer":[
  {"data":{"name":"obs"},"mark":{"type":"point","shape":"circle","filled":false,"color":"black","size":50,"strokeWidth":1.4,"opacity":1,"clip":true},"encoding":{"x":{"field":"DAP","type":"quantitative","scale":{"domain":[336,1088],"nice":false,"zero":false},"axis":null},"y":{"field":"MAP","type":"quantitative","scale":{"domain":[361,1114],"nice":false,"zero":false},"axis":null}}},
  {"data":{"name":"smooth"},"transform":[{"filter":"datum.panel == 'MAP|DAP'"}],"mark":{"type":"line","color":"red","strokeWidth":1.6,"clip":true,"interpolate":"monotone"},"encoding":{"x":{"field":"x","type":"quantitative","scale":{"domain":[336,1088],"nice":false,"zero":false},"axis":null},"y":{"field":"y","type":"quantitative","scale":{"domain":[361,1114],"nice":false,"zero":false},"axis":null}}}
 ]},
 {"width":148.2,"height":78.4,"layer":[
  {"data":{"name":"hist"},"transform":[{"filter":"datum.var == 'MAP'"}],"mark":{"type":"bar","fill":"#2297E6","stroke":"black","strokeWidth":1.2,"clip":true},"encoding":{"x":{"field":"bin0","type":"quantitative","scale":{"domain":[361,1114],"nice":false,"zero":false},"axis":null},"x2":{"field":"bin1"},"y":{"field":"count","type":"quantitative","scale":{"domain":[-2.2,109.8],"nice":false,"zero":false},"axis":null},"y2":{"datum":0}}},
  {"data":{"name":"dens"},"transform":[{"filter":"datum.var == 'MAP'"}],"mark":{"type":"line","color":"black","strokeWidth":1.3,"clip":true,"interpolate":"monotone"},"encoding":{"x":{"field":"value","type":"quantitative","scale":{"domain":[361,1114],"nice":false,"zero":false},"axis":null},"y":{"field":"density","type":"quantitative","scale":{"domain":[-2.2,109.8],"nice":false,"zero":false},"axis":null}}},
  {"data":{"name":"obs"},"mark":{"type":"rule","color":"black","strokeWidth":0.6,"clip":true},"encoding":{"x":{"field":"MAP","type":"quantitative","scale":{"domain":[361,1114],"nice":false,"zero":false},"axis":null},"y":{"datum":-2.2,"type":"quantitative","scale":{"domain":[-2.2,109.8],"nice":false,"zero":false},"axis":null},"y2":{"datum":1.2}}},
  {"data":{"values":[{"label":"MAP"}]},"mark":{"type":"text","fontSize":34.5,"font":"Liberation Sans","color":"black","baseline":"alphabetic","clip":true},"encoding":{"text":{"field":"label","type":"nominal"},"y":{"datum":73,"type":"quantitative","scale":{"domain":[-2.2,109.8],"nice":false,"zero":false},"axis":null}}}
 ]},
 {"width":148.2,"height":78.4,"data":{"values":[{"r":0.71}]},"mark":{"type":"text","fontSize":46,"font":"Liberation Sans","color":"black","baseline":"middle","dy":2.5},"encoding":{"text":{"field":"r","type":"quantitative","format":".2f"},"x":{"datum":0.5,"type":"quantitative","scale":{"domain":[0,1]},"axis":null},"y":{"datum":0.5,"type":"quantitative","scale":{"domain":[0,1]},"axis":null}}},
 {"width":148.2,"height":78.4,"layer":[
  {"data":{"name":"obs"},"mark":{"type":"point","shape":"circle","filled":false,"color":"black","size":50,"strokeWidth":1.4,"opacity":1,"clip":true},"encoding":{"x":{"field":"anhydrous","type":"quantitative","scale":{"domain":[350,1582],"nice":false,"zero":false},"axis":{"orient":"bottom","title":null,"format":"d","values":[400,600,800,1000,1200,1400],"labelExpr":"indexof([400,800,1400], datum.value) >= 0 ? datum.label : ''","labelPadding":14.7}},"y":{"field":"potash","type":"quantitative","scale":{"domain":[290,907],"nice":false,"zero":false},"axis":null}}},
  {"data":{"name":"smooth"},"transform":[{"filter":"datum.panel == 'potash|anhydrous'"}],"mark":{"type":"line","color":"red","strokeWidth":1.6,"clip":true,"interpolate":"monotone"},"encoding":{"x":{"field":"x","type":"quantitative","scale":{"domain":[350,1582],"nice":false,"zero":false},"axis":{"orient":"bottom","title":null,"format":"d","values":[400,600,800,1000,1200,1400],"labelExpr":"indexof([400,800,1400], datum.value) >= 0 ? datum.label : ''","labelPadding":14.7}},"y":{"field":"y","type":"quantitative","scale":{"domain":[290,907],"nice":false,"zero":false},"axis":null}}}
 ]},
 {"width":148.2,"height":78.4,"layer":[
  {"data":{"name":"obs"},"mark":{"type":"point","shape":"circle","filled":false,"color":"black","size":50,"strokeWidth":1.4,"opacity":1,"clip":true},"encoding":{"x":{"field":"urea","type":"quantitative","scale":{"domain":[281,1034],"nice":false,"zero":false},"axis":null},"y":{"field":"potash","type":"quantitative","scale":{"domain":[290,907],"nice":false,"zero":false},"axis":null}}},
  {"data":{"name":"smooth"},"transform":[{"filter":"datum.panel == 'potash|urea'"}],"mark":{"type":"line","color":"red","strokeWidth":1.6,"clip":true,"interpolate":"monotone"},"encoding":{"x":{"field":"x","type":"quantitative","scale":{"domain":[281,1034],"nice":false,"zero":false},"axis":null},"y":{"field":"y","type":"quantitative","scale":{"domain":[290,907],"nice":false,"zero":false},"axis":null}}}
 ]},
 {"width":148.2,"height":78.4,"layer":[
  {"data":{"name":"obs"},"mark":{"type":"point","shape":"circle","filled":false,"color":"black","size":50,"strokeWidth":1.4,"opacity":1,"clip":true},"encoding":{"x":{"field":"DAP","type":"quantitative","scale":{"domain":[336,1088],"nice":false,"zero":false},"axis":{"orient":"bottom","title":null,"format":"d","values":[400,500,600,700,800,900,1000],"labelExpr":"indexof([400,700,1000], datum.value) >= 0 ? datum.label : ''","labelPadding":14.7}},"y":{"field":"potash","type":"quantitative","scale":{"domain":[290,907],"nice":false,"zero":false},"axis":null}}},
  {"data":{"name":"smooth"},"transform":[{"filter":"datum.panel == 'potash|DAP'"}],"mark":{"type":"line","color":"red","strokeWidth":1.6,"clip":true,"interpolate":"monotone"},"encoding":{"x":{"field":"x","type":"quantitative","scale":{"domain":[336,1088],"nice":false,"zero":false},"axis":{"orient":"bottom","title":null,"format":"d","values":[400,500,600,700,800,900,1000],"labelExpr":"indexof([400,700,1000], datum.value) >= 0 ? datum.label : ''","labelPadding":14.7}},"y":{"field":"y","type":"quantitative","scale":{"domain":[290,907],"nice":false,"zero":false},"axis":null}}}
 ]},
 {"width":148.2,"height":78.4,"layer":[
  {"data":{"name":"obs"},"mark":{"type":"point","shape":"circle","filled":false,"color":"black","size":50,"strokeWidth":1.4,"opacity":1,"clip":true},"encoding":{"x":{"field":"MAP","type":"quantitative","scale":{"domain":[361,1114],"nice":false,"zero":false},"axis":null},"y":{"field":"potash","type":"quantitative","scale":{"domain":[290,907],"nice":false,"zero":false},"axis":null}}},
  {"data":{"name":"smooth"},"transform":[{"filter":"datum.panel == 'potash|MAP'"}],"mark":{"type":"line","color":"red","strokeWidth":1.6,"clip":true,"interpolate":"monotone"},"encoding":{"x":{"field":"x","type":"quantitative","scale":{"domain":[361,1114],"nice":false,"zero":false},"axis":null},"y":{"field":"y","type":"quantitative","scale":{"domain":[290,907],"nice":false,"zero":false},"axis":null}}}
 ]},
 {"width":148.2,"height":78.4,"resolve":{"scale":{"y":"independent"}},"layer":[
  {"data":{"name":"hist"},"transform":[{"filter":"datum.var == 'potash'"}],"mark":{"type":"bar","fill":"#2297E6","stroke":"black","strokeWidth":1.2,"clip":true},"encoding":{"x":{"field":"bin0","type":"quantitative","scale":{"domain":[290,907],"nice":false,"zero":false},"axis":{"orient":"bottom","title":null,"format":"d","values":[300,400,500,600,700,800,900],"labelExpr":"indexof([300,500,700,900], datum.value) >= 0 ? datum.label : ''","labelPadding":14.7}},"x2":{"field":"bin1"},"y":{"field":"count","type":"quantitative","scale":{"domain":[-2.2,109.8],"nice":false,"zero":false},"axis":null},"y2":{"datum":0}}},
  {"data":{"name":"dens"},"transform":[{"filter":"datum.var == 'potash'"}],"mark":{"type":"line","color":"black","strokeWidth":1.3,"clip":true,"interpolate":"monotone"},"encoding":{"x":{"field":"value","type":"quantitative","scale":{"domain":[290,907],"nice":false,"zero":false},"axis":{"orient":"bottom","title":null,"format":"d","values":[300,400,500,600,700,800,900],"labelExpr":"indexof([300,500,700,900], datum.value) >= 0 ? datum.label : ''","labelPadding":14.7}},"y":{"field":"density","type":"quantitative","scale":{"domain":[-2.2,109.8],"nice":false,"zero":false},"axis":null}}},
  {"data":{"name":"obs"},"mark":{"type":"rule","color":"black","strokeWidth":0.6,"clip":true},"encoding":{"x":{"field":"potash","type":"quantitative","scale":{"domain":[290,907],"nice":false,"zero":false},"axis":{"orient":"bottom","title":null,"format":"d","values":[300,400,500,600,700,800,900],"labelExpr":"indexof([300,500,700,900], datum.value) >= 0 ? datum.label : ''","labelPadding":14.7}},"y":{"datum":-2.2,"type":"quantitative","scale":{"domain":[-2.2,109.8],"nice":false,"zero":false},"axis":null},"y2":{"datum":1.2}}},
  {"data":{"values":[{"label":"potash"}]},"mark":{"type":"text","fontSize":34.5,"font":"Liberation Sans","color":"black","baseline":"alphabetic","clip":true},"encoding":{"text":{"field":"label","type":"nominal"},"y":{"datum":79,"type":"quantitative","scale":{"domain":[-2.2,109.8],"nice":false,"zero":false},"axis":null}}},
  {"data":{"values":[{"k":1}]},"mark":{"type":"rule","opacity":0},"encoding":{"y":{"datum":600,"type":"quantitative","scale":{"domain":[290,907],"nice":false,"zero":false},"axis":{"orient":"right","title":null,"format":"d","values":[300,400,500,600,700,800,900],"labelExpr":"indexof([300,700], datum.value) >= 0 ? datum.label : ''","labelAngle":-90,"labelAlign":"center","labelBaseline":"top","labelPadding":6.5}}}}
 ]}
]
}
